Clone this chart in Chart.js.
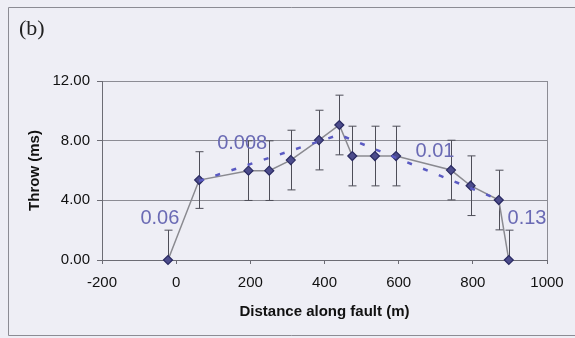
<!DOCTYPE html>
<html>
<head>
  <title>Throw along fault</title>
  <script src="https://cdn.jsdelivr.net/npm/chart.js"></script>
  <style>
    body { margin: 0; background: #eeeef5; }
  </style>
</head>
<body>
  <canvas id="throwChart" width="575" height="338"></canvas>

  <script>
    const distance = [-22, 62, 195, 251, 309, 385, 440, 475, 536, 593, 741, 794, 870, 897];
    const throwMs = [0, 5.36, 5.99, 5.99, 6.70, 8.04, 9.05, 6.97, 6.97, 6.97, 6.03, 4.98, 4.02, 0];
    const throwErr = [2, 1.9, 2, 2, 2, 2, 2, 2, 2, 2, 2, 2, 2, 2];

    // Dashed gradient fit
    const trendX = [62, 440, 870];
    const trendY = [5.3, 8.4, 4.05];

    // Gradient labels
    const gradText = ['0.06', '0.008', '0.01', '0.13'];
    const gradX = [-44, 178, 698, 946];
    const gradY = [2.8, 7.8, 7.3, 2.75];

    const throwPoints = distance.map((d, i) => ({ x: d, y: throwMs[i] }));
    const trendPoints = trendX.map((d, i) => ({ x: d, y: trendY[i] }));

    // page frame + "(b)" panel letter
    const framePlugin = {
      id: 'frame',
      beforeDraw(chart) {
        const ctx = chart.ctx;
        ctx.save();
        ctx.fillStyle = '#eeeef5';
        ctx.fillRect(0, 0, chart.width, chart.height);
        ctx.strokeStyle = '#8c8c94';
        ctx.lineWidth = 1;
        ctx.beginPath();
        ctx.moveTo(chart.width, 7.5);
        ctx.lineTo(8.5, 7.5);
        ctx.lineTo(8.5, 335.5);
        ctx.lineTo(chart.width, 335.5);
        ctx.stroke();
        ctx.fillStyle = '#222';
        ctx.font = '22px "Liberation Serif"';
        ctx.textBaseline = 'middle';
        ctx.fillText('(b)', 19, 29);
        ctx.restore();
      }
    };

    // error bars drawn from throwErr
    const errorBarPlugin = {
      id: 'errorBars',
      beforeDatasetsDraw(chart) {
        const { ctx, chartArea, scales: { x, y } } = chart;
        ctx.save();
        ctx.beginPath();
        ctx.rect(chartArea.left, chartArea.top - 1, chartArea.right - chartArea.left, chartArea.bottom - chartArea.top + 1);
        ctx.clip();
        ctx.strokeStyle = '#4e4e58';
        ctx.lineWidth = 1;
        distance.forEach((d, i) => {
          const px = Math.round(x.getPixelForValue(d)) + 0.5;
          const top = y.getPixelForValue(throwMs[i] + throwErr[i]);
          const bot = y.getPixelForValue(throwMs[i] - throwErr[i]);
          ctx.beginPath();
          ctx.moveTo(px, top);
          ctx.lineTo(px, bot);
          ctx.moveTo(px - 4, top);
          ctx.lineTo(px + 4, top);
          ctx.moveTo(px - 4, bot);
          ctx.lineTo(px + 4, bot);
          ctx.stroke();
        });
        ctx.restore();
      },
      afterDatasetsDraw(chart) {
        const { ctx, scales: { x, y } } = chart;
        ctx.save();
        ctx.fillStyle = '#6a6ab4';
        ctx.font = '20px "Liberation Sans"';
        ctx.textAlign = 'center';
        ctx.textBaseline = 'middle';
        gradText.forEach((t, i) => {
          ctx.fillText(t, x.getPixelForValue(gradX[i]), y.getPixelForValue(gradY[i]));
        });
        ctx.restore();
      }
    };

    new Chart(document.getElementById('throwChart'), {
      type: 'scatter',
      data: {
        datasets: [
          {
            label: 'Throw',
            data: throwPoints,
            showLine: true,
            borderColor: '#8a8a90',
            borderWidth: 1.5,
            pointStyle: 'rectRot',
            pointRadius: 4.5,
            pointBackgroundColor: '#4c4c8c',
            pointBorderColor: '#2a2a62',
            pointBorderWidth: 1.2,
            clip: false,
            order: 2
          },
          {
            label: 'Fit',
            data: trendPoints,
            showLine: true,
            borderColor: '#5a5ac2',
            borderWidth: 2.5,
            borderDash: [5, 12],
            pointRadius: 0,
            order: 1
          }
        ]
      },
      options: {
        responsive: false,
        animation: false,
        layout: { padding: { top: 81, right: 28 } },
        plugins: {
          legend: { display: false },
          tooltip: { enabled: false }
        },
        scales: {
          x: {
            type: 'linear',
            min: -200,
            max: 1000,
            afterFit: s => { s.height = 78; },
            ticks: {
              stepSize: 200,
              color: '#111',
              font: { family: 'Liberation Sans', size: 15 },
              padding: 10,
              maxRotation: 0,
              callback: v => String(v)
            },
            grid: {
              drawOnChartArea: true,
              color: c => c.tick && c.tick.value === 1000 ? '#8c8c94' : 'rgba(0,0,0,0)',
              tickColor: '#6c6c74',
              tickLength: 4
            },
            border: { display: true, color: '#6c6c74' },
            title: {
              display: true,
              text: 'Distance along fault (m)',
              color: '#111',
              font: { family: 'Liberation Sans', size: 15, weight: 'bold' },
              padding: { top: 0, bottom: 17 }
            }
          },
          y: {
            min: 0,
            max: 12,
            afterFit: s => { s.width = 102; },
            ticks: {
              stepSize: 4,
              color: '#111',
              font: { family: 'Liberation Sans', size: 15 },
              padding: 7,
              callback: v => v.toFixed(2)
            },
            grid: {
              color: '#8c8c94',
              tickColor: '#6c6c74',
              tickLength: 5
            },
            border: { display: true, color: '#6c6c74' },
            title: {
              display: true,
              text: 'Throw (ms)',
              color: '#111',
              font: { family: 'Liberation Sans', size: 15, weight: 'bold' },
              padding: { top: 26, bottom: 0 }
            }
          }
        }
      },
      plugins: [framePlugin, errorBarPlugin]
    });
  </script>
</body>
</html>
